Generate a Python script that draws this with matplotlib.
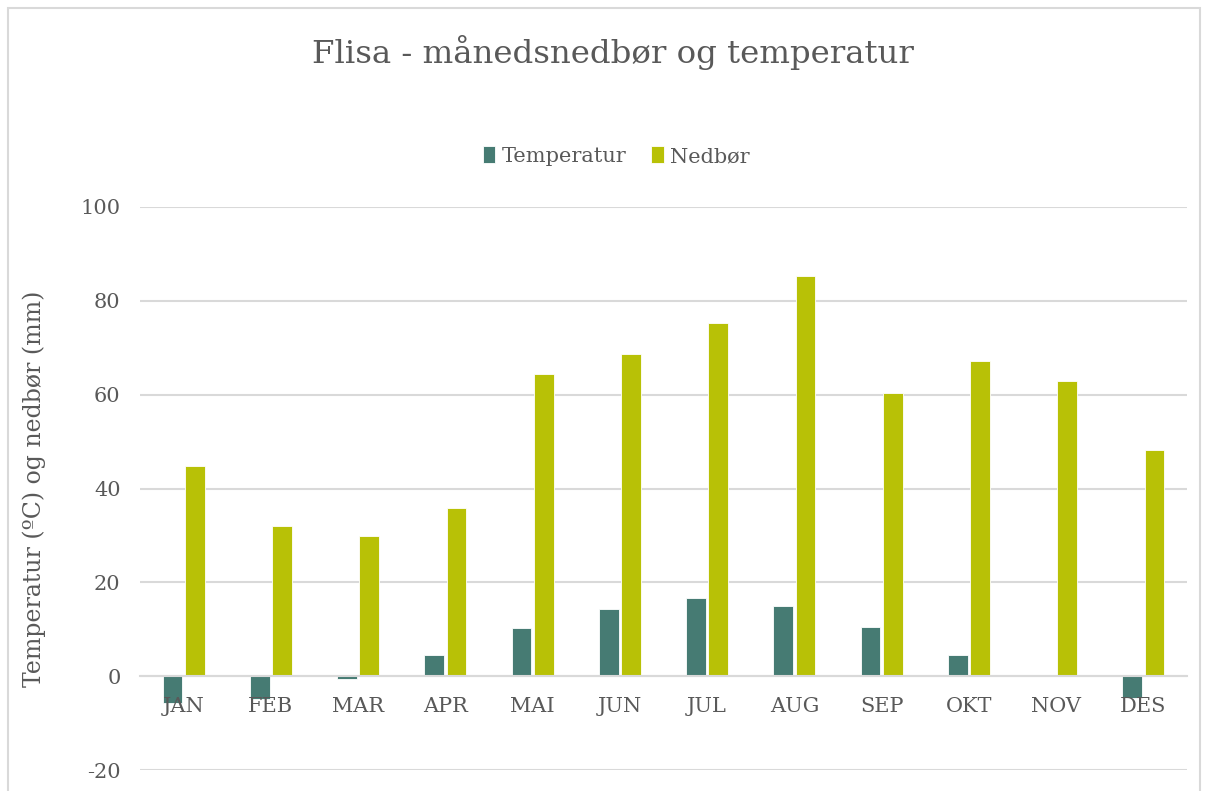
import numpy as np
import matplotlib
matplotlib.use('Agg')
import matplotlib.pyplot as plt
from matplotlib.patches import Rectangle

months = ['JAN', 'FEB', 'MAR', 'APR', 'MAI', 'JUN', 'JUL', 'AUG', 'SEP', 'OKT', 'NOV', 'DES']
temperatur = [-5.8, -4.8, -0.5, 4.6, 10.2, 14.3, 16.6, 15.0, 10.4, 4.6, 0.0, -4.6]
nedbor = [44.9, 32.0, 29.9, 35.9, 64.4, 68.7, 75.2, 85.3, 60.4, 67.1, 63.0, 48.2]
yticks = [-20, 0, 20, 40, 60, 80, 100]

c_temp = '#467B73'
c_ned = '#B8C106'
grey = '#595959'
grid = '#D9D9D9'

plt.rcParams['font.family'] = ['DejaVu Serif']
plt.rcParams['axes.unicode_minus'] = False

fig = plt.figure(figsize=(12.06, 7.91), dpi=100)
fig.patches.append(Rectangle((8 / 1206, -0.1), 1192 / 1206, 1.1 - 8 / 791, transform=fig.transFigure,
                             fill=False, edgecolor=grid, lw=1.5))

ax = fig.add_axes([140 / 1206, 1 - 770 / 791, 1047 / 1206, 563 / 791])

x = np.arange(len(months))
w = 0.225
ax.bar(x - 0.127, temperatur, w, color=c_temp, edgecolor='white', lw=0.6, label='Temperatur', zorder=3)
ax.bar(x + 0.127, nedbor, w, color=c_ned, edgecolor='white', lw=0.6, label='Nedbør', zorder=3)

ax.set_xlim(-0.5, len(months) - 0.5)
ax.set_ylim(-20, 100)
ax.set_yticks(yticks)
ax.grid(axis='y', color=grid, lw=1.5, zorder=0)
for s in ['top', 'right', 'left']:
    ax.spines[s].set_visible(False)
ax.spines['bottom'].set_position(('data', 0))
ax.spines['bottom'].set_color(grid)
ax.spines['bottom'].set_linewidth(1.5)
ax.spines['bottom'].set_zorder(4)
ax.set_xticks(x)
ax.set_xticklabels(months)
ax.xaxis.set_zorder(5)
ax.tick_params(axis='x', length=0, labelsize=15, labelcolor=grey, pad=15)
ax.tick_params(axis='y', length=0, labelsize=15, labelcolor=grey, pad=14)

ax.set_ylabel('Temperatur (ºC) og nedbør (mm)', fontsize=17, color=grey, labelpad=25)

fig.text(0.508, 1 - 52 / 791, 'Flisa - månedsnedbør og temperatur', ha='center', va='center',
         fontsize=23.3, color=grey)

fig.legend(loc='center', bbox_to_anchor=(0.511, 1 - 156 / 791), ncol=2, frameon=False,
           fontsize=15, labelcolor=grey, handlelength=0.6, handleheight=0.9,
           handletextpad=0.3, columnspacing=1.2)

fig.savefig('out.png', dpi=100)
